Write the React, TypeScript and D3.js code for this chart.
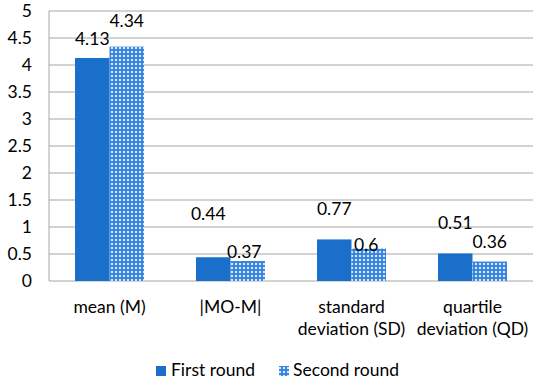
import React from 'react';
import * as d3 from 'd3';

const categories = [['mean (M)'], ['|MO-M|'], ['standard', 'deviation (SD)'], ['quartile', 'deviation (QD)']];
const firstRound = [4.13, 0.44, 0.77, 0.51];
const secondRound = [4.34, 0.37, 0.6, 0.36];
const yTicks = [0, 0.5, 1, 1.5, 2, 2.5, 3, 3.5, 4, 4.5, 5];
const seriesNames = ['First round', 'Second round'];
// label nudges (Excel labels were dragged by hand)
const labelShift1 = [[0, -19], [-5, -43], [0, -31], [0, -30.5]];
const labelShift2 = [[0, -26], [-3.5, -9], [-2.5, -4], [0, -19.5]];

const W = 550;
const H = 384;
const margin = { top: 11, right: 17, bottom: 103, left: 49 };
const font = 'Lato, "Open Sans", sans-serif';
const fs = 17.5;
const blue = '#1a6fcb';

const App = () => {
  const x = d3.scaleBand().domain(categories.map((c) => c.join(' '))).range([margin.left, W - margin.right]).paddingInner(0.43).paddingOuter(0.215);
  const y = d3.scaleLinear().domain([0, 5]).range([H - margin.bottom, margin.top]);
  const bw = x.bandwidth() / 2;

  return (
    <svg width={W} height={H} style={{ position: 'absolute', left: 0, top: 0, background: '#fff' }} fontFamily={font}>
      <defs>
        <pattern id="chk" width="4" height="4" patternUnits="userSpaceOnUse">
          <rect width="4" height="4" fill="#d6e6f8" />
          <rect x="1" y="0" width="2" height="4" fill="#3f8ae0" />
          <rect x="0" y="1" width="4" height="2" fill="#3f8ae0" />
          <rect x="1.5" y="1.5" width="1" height="1" fill="#1a6fcb" />
        </pattern>
      </defs>
      {yTicks.map((t) => (
        <g key={t}>
          <line x1={margin.left} x2={W - margin.right} y1={y(t)} y2={y(t)} stroke="#a6a6a6" strokeWidth={1} />
          <text x={32} y={y(t)} dy="0.35em" textAnchor="end" fontSize={fs} fill="#000">{t}</text>
        </g>
      ))}
      <line x1={margin.left} x2={margin.left} y1={y(5)} y2={y(0)} stroke="#a6a6a6" />
      {categories.map((c, i) => {
        const x0 = x(c.join(' '))!;
        return (
          <g key={i}>
            <rect x={x0} y={y(firstRound[i])} width={bw} height={y(0) - y(firstRound[i])} fill={blue} />
            <rect x={x0 + bw} y={y(secondRound[i])} width={bw} height={y(0) - y(secondRound[i])} fill="url(#chk)" />
            <text x={x0 + bw / 2 + labelShift1[i][0]} y={y(firstRound[i]) + labelShift1[i][1]} dy="0.35em" textAnchor="middle" fontSize={fs}>{firstRound[i]}</text>
            <text x={x0 + bw * 1.5 + labelShift2[i][0]} y={y(secondRound[i]) + labelShift2[i][1]} dy="0.35em" textAnchor="middle" fontSize={fs}>{secondRound[i]}</text>
            {c.map((line, k) => (
              <text key={k} x={x0 + bw} y={307 + k * 22} dy="0.35em" textAnchor="middle" fontSize={fs}>{line}</text>
            ))}
          </g>
        );
      })}
      <g>
        <rect x={156} y={366} width={10} height={10} fill={blue} />
        <text x={171} y={370} dy="0.35em" fontSize={fs}>{seriesNames[0]}</text>
        <rect x={279} y={366} width={10} height={10} fill="url(#chk)" />
        <text x={293} y={370} dy="0.35em" fontSize={fs}>{seriesNames[1]}</text>
      </g>
    </svg>
  );
};

export default App;
